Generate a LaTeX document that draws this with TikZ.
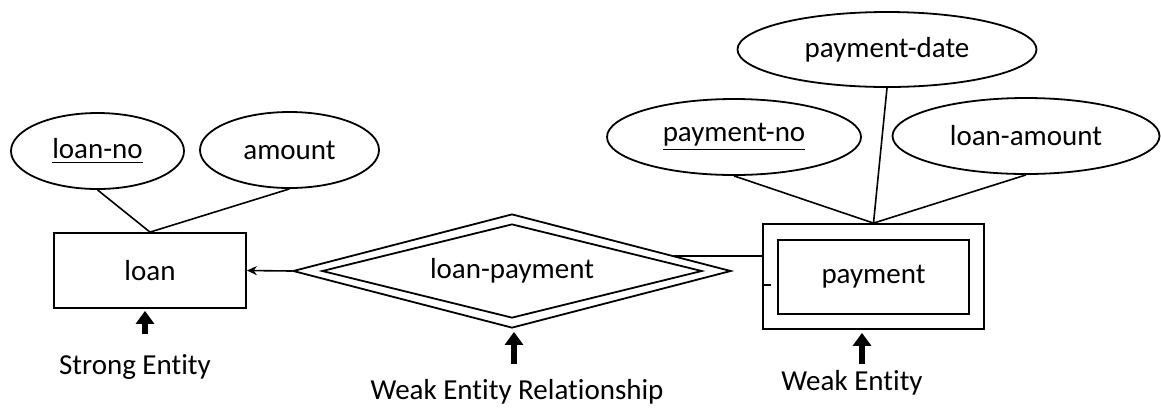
\documentclass[tikz,border=0pt]{standalone}
\usepackage{fontspec}
\setmainfont{Carlito}[Ligatures=NoCommon]
\usetikzlibrary{shapes.geometric,arrows.meta,calc}
\begin{document}
\begin{tikzpicture}[x=0.5pt,y=-0.5pt,
  every node/.style={font=\fontsize{14.5}{17}\selectfont},
  attr/.style={ellipse,draw,line width=0.9pt,inner sep=0pt},
  entity/.style={rectangle,draw,line width=0.9pt,inner sep=0pt},
  relation/.style={diamond,draw,line width=0.9pt,inner sep=0pt,aspect=3.8},
  link/.style={line width=0.8pt},
  pointer/.style={line width=2.8pt,-{Triangle[width=9pt,length=6.5pt]}}]
\useasboundingbox (0,0) rectangle (1161,409);
% strong entity
\node[entity,minimum width=96pt,minimum height=37.5pt] (Loan) at (150,270.5) {loan};
\node[attr,minimum width=86.5pt,minimum height=38pt] (LoanNo) at (97.5,151) {\underline{loan-no}};
\node[attr,minimum width=89.5pt,minimum height=38pt] (Amount) at (289.5,150) {amount};
\draw[link] (LoanNo.south) -- (Loan.north);
\draw[link] (Amount.south) -- (Loan.north);
% relationship
\node[relation,minimum width=219pt,minimum height=57pt] (Rel) at (512,271) {};
\node[relation,minimum width=190pt,minimum height=47pt] (RelIn) at (512,271) {loan-payment};
% weak entity
\node[entity,minimum width=110.5pt,minimum height=52.5pt] (Payment) at (873.5,276.5) {};
\node[entity,minimum width=95.5pt,minimum height=37pt] (PaymentIn) at (873.5,277) {payment};
\node[attr,minimum width=127pt,minimum height=38pt] (PayNo) at (734,137) {\underline{payment-no}};
\node[attr,minimum width=149.5pt,minimum height=37.5pt] (PayDate) at (887,49.5) {payment-date};
\node[attr,minimum width=133.5pt,minimum height=38pt] (LoanAmt) at (1026,136) {loan-amount};
\draw[link] (PayNo.south) -- (Payment.north);
\draw[link] (PayDate.south) -- (Payment.north);
\draw[link] (LoanAmt.south) -- (Payment.north);
% connectors
\draw[link,-{Stealth[length=5pt,width=4.5pt]}] (Rel.west) -- (Loan.east);
\coordinate (RelOut) at ($(Rel.east)!0.263!(Rel.north)$);
\draw[link] (RelOut) -- (RelOut -| Payment.west);
\coordinate (Stub) at ($(Payment.west)+(0,8.5)$);
\draw[link] (Stub) -- ++(9,0);
% captions
\node (StrongLbl) at (135,367) {Strong Entity};
\node (RelLbl) at (517,392) {Weak Entity Relationship};
\node (WeakLbl) at (852,383) {Weak Entity};
\coordinate (StrongTail) at (145,334);
\coordinate (RelTail) at (514,364);
\coordinate (WeakTail) at (862,364);
\draw[pointer] (StrongTail) -- ($(StrongTail |- Loan.south)+(0,2)$);
\draw[pointer] (RelTail) -- ($(RelTail |- Rel.south)+(0,3)$);
\draw[pointer] (WeakTail) -- ($(WeakTail |- Payment.south)+(0,3)$);
\end{tikzpicture}
\end{document}
